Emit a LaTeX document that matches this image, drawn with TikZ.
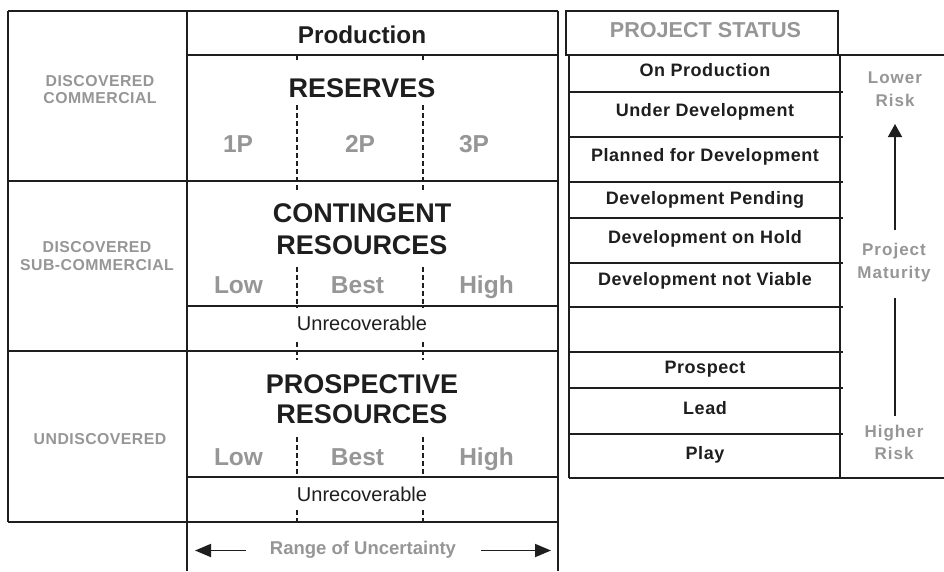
\documentclass[tikz,border=0pt]{standalone}
\usepackage{fontspec}
\setmainfont{Liberation Sans}
\newfontfamily\trackfont[LetterSpace=3]{Liberation Sans}
\newfontfamily\widetrackfont[LetterSpace=6]{Liberation Sans}
\usetikzlibrary{arrows.meta}
\definecolor{ink}{RGB}{30,30,30}
\definecolor{lbl}{RGB}{150,150,150}
\tikzset{
  frame/.style={draw=ink, line width=1.8pt},
  thinframe/.style={draw=ink, line width=1.6pt},
  dashline/.style={draw=ink, line width=1.2pt, dash pattern=on 5pt off 3pt},
  txt/.style={anchor=base, inner sep=0pt},
  prodlbl/.style={txt, font=\bfseries\fontsize{24.3}{28}\selectfont, text=ink},
  title/.style={txt, font=\bfseries\fontsize{27}{32}\selectfont, text=ink},
  rangelbl/.style={txt, font=\bfseries\fontsize{24.5}{29}\selectfont, text=lbl},
  sidelbl/.style={txt, font=\trackfont\bfseries\fontsize{15.8}{18}\selectfont, text=lbl},
  unrec/.style={txt, font=\fontsize{20}{24}\selectfont, text=ink},
  statuslbl/.style={txt, font=\trackfont\bfseries\fontsize{18}{21}\selectfont, text=ink},
  headlbl/.style={txt, font=\bfseries\fontsize{21.6}{25}\selectfont, text=lbl},
  risklbl/.style={txt, font=\widetrackfont\bfseries\fontsize{17}{20}\selectfont, text=lbl},
  uncert/.style={txt, font=\bfseries\fontsize{18.5}{22}\selectfont, text=lbl},
  bigtip/.style={draw=ink, line width=1.8pt, -{Triangle[length=16pt,width=13pt]}},
  risktip/.style={draw=ink, line width=1.5pt, -{Triangle[length=13pt,width=14pt]}},
  riskline/.style={draw=ink, line width=1.5pt}
}
\begin{document}
\begin{tikzpicture}[x=1pt,y=-1pt]
\useasboundingbox (0,0) rectangle (944,571);
\fill[white] (0,0) rectangle (944,571);

% dashed separators
\foreach \x in {297,423} {
  \foreach \a/\b in {55/62, 105/190, 267/308, 342/360, 437/477, 510/522}
    \draw[dashline] (\x,\a) -- (\x,\b);
}

% left table frame
\draw[frame] (8,11) -- (558,11);
\draw[frame] (8,11) -- (8,522);
\draw[frame] (187,11) -- (187,571);
\draw[frame] (558,11) -- (558,571);
\draw[frame] (187,55) -- (558,55);
\draw[frame] (8,181) -- (558,181);
\draw[frame] (187,306) -- (558,306);
\draw[frame] (8,351) -- (558,351);
\draw[frame] (187,477) -- (558,477);
\draw[frame] (8,522) -- (558,522);

% left labels
\node[sidelbl] (dc1) at (100,86) {DISCOVERED};
\node[sidelbl] (dc2) at (100,103) {COMMERCIAL};
\node[sidelbl] (ds1) at (97,252) {DISCOVERED};
\node[sidelbl] (ds2) at (97,270.5) {SUB-COMMERCIAL};
\node[sidelbl] (ud) at (100,444.5) {UNDISCOVERED};

% middle column
\node[prodlbl] (prod) at (362,43) {Production};
\node[title] (res) at (362,97) {RESERVES};
\node[rangelbl] (p1) at (238,152) {1P};
\node[rangelbl] (p2) at (360,152) {2P};
\node[rangelbl] (p3) at (474,152) {3P};

\node[title] (cr1) at (362,222.5) {CONTINGENT};
\node[title] (cr2) at (362,254.5) {RESOURCES};
\node[rangelbl] (cl) at (238.5,293) {Low};
\node[rangelbl] (cb) at (357.5,293) {Best};
\node[rangelbl] (ch) at (486.5,293) {High};
\node[unrec] (cu) at (362,330) {Unrecoverable};

\node[title] (pr1) at (362,393.5) {PROSPECTIVE};
\node[title] (pr2) at (362,423.5) {RESOURCES};
\node[rangelbl] (pl) at (238.5,465) {Low};
\node[rangelbl] (pb) at (357.5,465) {Best};
\node[rangelbl] (ph) at (486.5,465) {High};
\node[unrec] (pu) at (362,501) {Unrecoverable};

% range of uncertainty
\node[uncert] (unc) at (363,554) {Range of Uncertainty};
\coordinate (la) at (246,550.5);
\coordinate (lb) at (195,550.5);
\coordinate (ra) at (481,550.5);
\coordinate (rb) at (551,550.5);
\draw[bigtip] (la) -- (lb);
\draw[bigtip] (ra) -- (rb);

% project status
\draw[frame] (566,11) rectangle (838,55);
\node[headlbl] (ps) at (705.5,37) {PROJECT STATUS};

\draw[thinframe] (569,55) -- (569,478);
\draw[thinframe] (840,55) -- (840,478);
\foreach \y in {55,92,137,182,218,263,307,352,388,434,478}
  \draw[thinframe] (569,\y) -- (843,\y);

\node[statuslbl] (s1) at (705,76.3) {On Production};
\node[statuslbl] (s2) at (705,116.3) {Under Development};
\node[statuslbl] (s3) at (705,161.3) {Planned for Development};
\node[statuslbl] (s4) at (705,204.3) {Development Pending};
\node[statuslbl] (s5) at (705,243.3) {Development on Hold};
\node[statuslbl] (s6) at (705,285.3) {Development not Viable};
\node[statuslbl] (s7) at (705,373.3) {Prospect};
\node[statuslbl] (s8) at (705,414.3) {Lead};
\node[statuslbl] (s9) at (705,459.3) {Play};

% risk column
\draw[thinframe] (838,55) -- (944,55);
\draw[thinframe] (840,478) -- (944,478);
\node[risklbl] (lr1) at (895,83.5) {Lower};
\node[risklbl] (lr2) at (895,106.5) {Risk};
\node[risklbl] (pm1) at (894,255.5) {Project};
\node[risklbl] (pm2) at (894,278.5) {Maturity};
\node[risklbl] (hr1) at (894,437.5) {Higher};
\node[risklbl] (hr2) at (894,459.5) {Risk};
\coordinate (ma) at (895,230);
\coordinate (mb) at (895,124);
\coordinate (mc) at (895,298);
\coordinate (md) at (895,416);
\draw[risktip] (ma) -- (mb);
\draw[riskline] (mc) -- (md);
\end{tikzpicture}
\end{document}
